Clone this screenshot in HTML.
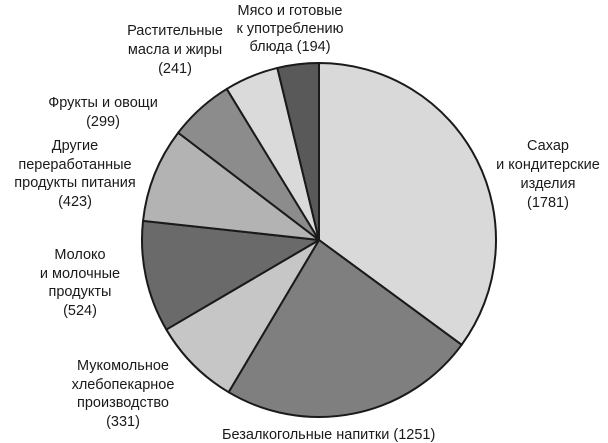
<!DOCTYPE html>
<html><head><meta charset="utf-8"><style>
html,body{margin:0;padding:0;background:#fff;}
svg{display:block;}
text{font-family:"Liberation Sans","DejaVu Sans",sans-serif;font-size:14.5px;fill:#1a1a1a;}
</style></head><body>
<svg id="s" width="608" height="443" viewBox="0 0 608 443" xmlns="http://www.w3.org/2000/svg">
<g id="pie"></g>
<g text-anchor="middle">
<text x="290" y="15">Мясо и готовые</text>
<text x="290" y="33">к употреблению</text>
<text x="290" y="51">блюда (194)</text>
<text x="175" y="35">Растительные</text>
<text x="175" y="54">масла и жиры</text>
<text x="175" y="73">(241)</text>
<text x="103" y="107">Фрукты и овощи</text>
<text x="103" y="126">(299)</text>
<text x="75" y="150">Другие</text>
<text x="75" y="169">переработанные</text>
<text x="75" y="187">продукты питания</text>
<text x="75" y="206">(423)</text>
<text x="80" y="259">Молоко</text>
<text x="80" y="278">и молочные</text>
<text x="80" y="296">продукты</text>
<text x="80" y="315">(524)</text>
<text x="123" y="370">Мукомольное</text>
<text x="123" y="389">хлебопекарное</text>
<text x="123" y="407">производство</text>
<text x="123" y="426">(331)</text>
<text x="548" y="150">Сахар</text>
<text x="548" y="169">и кондитерские</text>
<text x="548" y="188">изделия</text>
<text x="548" y="207">(1781)</text>
</g>
<text x="222" y="439">Безалкогольные напитки (1251)</text>
</svg>
<script>
var d=[[126.3,"#d9d9d9"],[210.7,"#7f7f7f"],[239.6,"#c6c6c6"],[276.2,"#6a6a6a"],[307.3,"#b3b3b3"],[328.6,"#8c8c8c"],[346.4,"#dadada"],[360,"#595959"]];
var cx=319,cy=240,r=177,prev=0;
var g=document.getElementById("pie"),h="";
d.forEach(function(e){var a0=prev*Math.PI/180,a1=e[0]*Math.PI/180;prev=e[0];
var x0=cx+r*Math.sin(a0),y0=cy-r*Math.cos(a0),x1=cx+r*Math.sin(a1),y1=cy-r*Math.cos(a1);
h+='<path d="M'+cx+' '+cy+' L'+x0+' '+y0+' A'+r+' '+r+' 0 '+((a1-a0)>Math.PI?1:0)+' 1 '+x1+' '+y1+' Z" fill="'+e[1]+'" stroke="#1a1a1a" stroke-width="2" stroke-linejoin="round"/>';});
g.innerHTML=h;
</script>
</body></html>
